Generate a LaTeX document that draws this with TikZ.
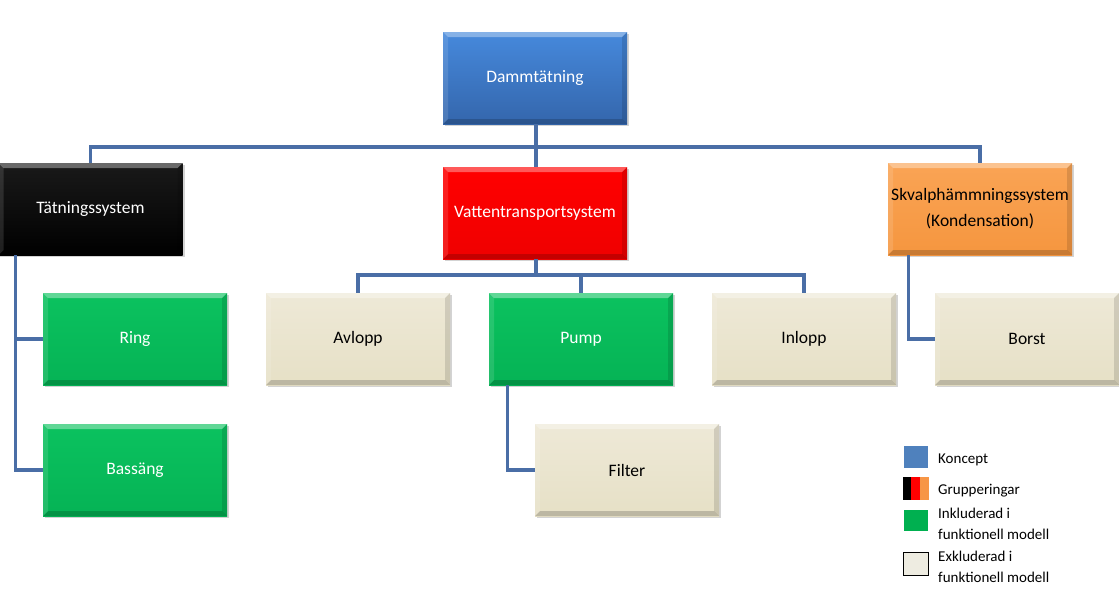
\documentclass[tikz,border=0pt]{standalone}
\usepackage{fontspec}
\setmainfont{Carlito}
\usetikzlibrary{shadows,calc}
\definecolor{linec}{HTML}{4A6EA6}
\definecolor{blueT}{HTML}{4689DC}
\definecolor{blueB}{HTML}{3466AC}
\definecolor{greenT}{HTML}{0BC25F}
\definecolor{greenB}{HTML}{05B355}
\definecolor{beigeT}{HTML}{EEE9D7}
\definecolor{beigeB}{HTML}{E6E0C6}
\definecolor{orangeT}{HTML}{FAA455}
\definecolor{orangeB}{HTML}{F5963F}
\definecolor{legblue}{HTML}{4F81BD}
\definecolor{leggreen}{HTML}{00B050}
\definecolor{legbeige}{HTML}{EEECE1}
\definecolor{legorange}{HTML}{F79646}
\tikzset{
  x=1pt,y=-1pt,
  boxbase/.style={minimum width=184pt,minimum height=92pt,inner sep=0pt,align=center,
    font=\fontsize{17.5}{26}\selectfont,
    drop shadow={shadow xshift=2pt,shadow yshift=-2pt,opacity=0.35},
    path picture={
      \fill[white,opacity=0.35] (path picture bounding box.north west) -- (path picture bounding box.north east)
        -- ($(path picture bounding box.north east)+(-5pt,-5pt)$) -- ($(path picture bounding box.north west)+(5pt,-5pt)$) -- cycle;
      \fill[black,opacity=0.18] (path picture bounding box.south west) -- (path picture bounding box.south east)
        -- ($(path picture bounding box.south east)+(-5pt,5pt)$) -- ($(path picture bounding box.south west)+(5pt,5pt)$) -- cycle;
      \fill[black,opacity=0.12] (path picture bounding box.north east) -- (path picture bounding box.south east)
        -- ($(path picture bounding box.south east)+(-5pt,5pt)$) -- ($(path picture bounding box.north east)+(-5pt,-5pt)$) -- cycle;
      \fill[white,opacity=0.12] (path picture bounding box.north west) -- (path picture bounding box.south west)
        -- ($(path picture bounding box.south west)+(5pt,5pt)$) -- ($(path picture bounding box.north west)+(5pt,-5pt)$) -- cycle;
    }},
  conceptbox/.style={boxbase,top color=blueT,bottom color=blueB,text=white},
  blackbox/.style={boxbase,top color=black!90,bottom color=black,text=white},
  redbox/.style={boxbase,top color=red,bottom color=red!94!black,text=white},
  orangebox/.style={boxbase,top color=orangeT,bottom color=orangeB,text=black},
  inclbox/.style={boxbase,top color=greenT,bottom color=greenB,text=white},
  exclbox/.style={boxbase,top color=beigeT,bottom color=beigeB,text=black},
  conn/.style={draw=linec,line width=3.2pt},
  legsq/.style={minimum width=24pt,minimum height=22pt,inner sep=0pt},
  legtxt/.style={anchor=west,inner sep=0pt,align=left,font=\fontsize{15}{21.5}\selectfont}
}
\begin{document}
\begin{tikzpicture}
\useasboundingbox (0,0) rectangle (1119,603);
% boxes
\node[conceptbox] (damm) at (535,78) {Dammtätning};
\node[blackbox] (tat) at (90.5,209) {Tätningssystem};
\node[redbox] (vatten) at (535,213) {Vattentransportsystem};
\node[orangebox] (skval) at (980,209) {Skvalphämmningssystem\\(Kondensation)};
\node[inclbox] (ring) at (135,339) {Ring};
\node[inclbox] (bassang) at (135,470) {Bassäng};
\node[exclbox] (avlopp) at (358,339) {Avlopp};
\node[inclbox] (pump) at (581,339) {Pump};
\node[exclbox] (inlopp) at (804,339) {Inlopp};
\node[exclbox] (borst) at (1027,339) {Borst};
\node[exclbox] (filter) at (627,470) {Filter};
% bus coordinates
\coordinate (bus) at (536,147);
\coordinate (vbus) at (536,275);
\coordinate (tatdrop) at ($(tat.south west)+(17,0)$);
\coordinate (skdrop) at ($(skval.south west)+(21,0)$);
\coordinate (pudrop) at ($(pump.south west)+(19,0)$);
% connectors
\draw[conn] (damm.south -| bus) -- (vatten.north -| bus);
\draw[conn] (tat.north) |- (bus) -| (skval.north);
\draw[conn] (vatten.south -| vbus) -- (vbus);
\draw[conn] (avlopp.north) |- (vbus) -| (inlopp.north);
\draw[conn] (vbus) -| (pump.north);
\draw[conn] (tatdrop) |- (ring.west);
\draw[conn] (tatdrop) |- (bassang.west);
\draw[conn] (skdrop) |- (borst.west);
\draw[conn] (pudrop) |- (filter.west);
% legend
\node[legsq,fill=legblue] (lg1) at (916,457) {};
\node[legtxt] (lt1) at (938,460) {Koncept};
\node[legsq,minimum width=26pt,minimum height=23pt] (lg2) at (916,488.5) {};
\fill[black] (lg2.north west) rectangle ($(lg2.south west)+(8.67,0)$);
\fill[red] ($(lg2.north west)+(8.67,0)$) rectangle ($(lg2.south west)+(17.33,0)$);
\fill[legorange] ($(lg2.north west)+(17.33,0)$) rectangle (lg2.south east);
\node[legtxt] (lt2) at (938,491) {Grupperingar};
\node[legsq,fill=leggreen,minimum height=21pt] (lg3) at (916,520.5) {};
\node[legtxt] (lt3) at (938,524) {Inkluderad i\\funktionell modell};
\node[legsq,fill=legbeige,draw=black,line width=0.8pt,minimum width=25pt,minimum height=23pt] (lg4) at (916,563.5) {};
\node[legtxt] (lt4) at (938,567) {Exkluderad i\\funktionell modell};
\end{tikzpicture}
\end{document}
